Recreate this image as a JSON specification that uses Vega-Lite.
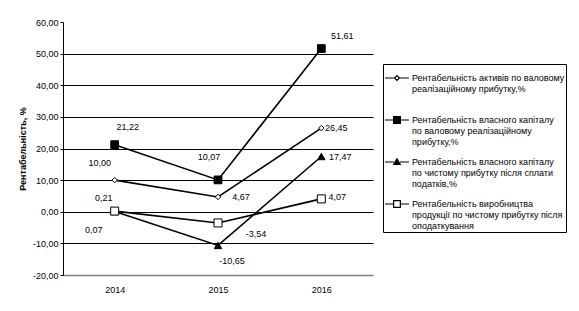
{
  "$schema": "https://vega.github.io/schema/vega-lite/v6.json",
  "width": 310,
  "height": 253,
  "autosize": {"type": "none"},
  "padding": {"left": 63, "top": 22, "right": 206, "bottom": 36},
  "background": "white",
  "config": {
    "locale": {"number": {"decimal": ",", "thousands": " ", "grouping": [3], "currency": ["", ""], "minus": "-"}},
    "font": "Liberation Sans",
    "view": {"stroke": null}
  },
  "data": {
    "values": [
      {"year": "2014", "series": "Рентабельність активів по валовому реалізаційному прибутку,%", "value": 10.00},
      {"year": "2015", "series": "Рентабельність активів по валовому реалізаційному прибутку,%", "value": 4.67},
      {"year": "2016", "series": "Рентабельність активів по валовому реалізаційному прибутку,%", "value": 26.45},
      {"year": "2014", "series": "Рентабельність власного капіталу по валовому реалізаційному прибутку,%", "value": 21.22},
      {"year": "2015", "series": "Рентабельність власного капіталу по валовому реалізаційному прибутку,%", "value": 10.07},
      {"year": "2016", "series": "Рентабельність власного капіталу по валовому реалізаційному прибутку,%", "value": 51.61},
      {"year": "2014", "series": "Рентабельність власного капіталу по чистому прибутку після сплати податків,%", "value": 0.07},
      {"year": "2015", "series": "Рентабельність власного капіталу по чистому прибутку після сплати податків,%", "value": -10.65},
      {"year": "2016", "series": "Рентабельність власного капіталу по чистому прибутку після сплати податків,%", "value": 17.47},
      {"year": "2014", "series": "Рентабельність виробництва продукції по чистому прибутку після оподаткування", "value": 0.21},
      {"year": "2015", "series": "Рентабельність виробництва продукції по чистому прибутку після оподаткування", "value": -3.54},
      {"year": "2016", "series": "Рентабельність виробництва продукції по чистому прибутку після оподаткування", "value": 4.07}
    ]
  },
  "encoding": {
    "x": {
      "field": "year", "type": "ordinal",
      "scale": {"type": "point", "padding": 0.5},
      "axis": {"title": null, "labelAngle": 0, "ticks": false, "domainColor": "#808080", "domainWidth": 1.5, "labelFontSize": 9, "labelColor": "black", "labelPadding": 10, "grid": false}
    },
    "y": {
      "field": "value", "type": "quantitative",
      "scale": {"domain": [-20, 60], "nice": false, "zero": false},
      "axis": {
        "title": "Рентабельність, %", "titleFontSize": 9, "titleFontWeight": "bold", "titleColor": "black", "titlePadding": 5,
        "values": [-20, -10, 0, 10, 20, 30, 40, 50, 60], "format": ".2f",
        "labelFontSize": 9, "labelColor": "black", "labelPadding": 2,
        "tickSize": 3, "tickColor": "black", "domainColor": "black",
        "grid": true, "gridColor": "black", "gridWidth": 1,
        "gridOpacity": {"condition": {"test": "datum.value >= 60 || datum.value <= -20", "value": 0}, "value": 1}
      }
    }
  },
  "layer": [
    {
      "mark": {"type": "line", "color": "black", "strokeWidth": 1.6},
      "encoding": {"detail": {"field": "series"}}
    },
    {
      "mark": {"type": "point", "filled": true, "size": 0, "strokeWidth": 1.2, "opacity": 1},
      "encoding": {
        "shape": {
          "field": "series", "type": "nominal",
          "scale": {
            "domain": [
              "Рентабельність активів по валовому реалізаційному прибутку,%",
              "Рентабельність власного капіталу по валовому реалізаційному прибутку,%",
              "Рентабельність власного капіталу по чистому прибутку після сплати податків,%",
              "Рентабельність виробництва продукції по чистому прибутку після оподаткування"
            ],
            "range": [
              "M-1,0H-0.2M0.2,0H1M0,-0.2L0.2,0L0,0.2L-0.2,0Z",
              "M-1,0H-0.28M0.28,0H1M-0.28,-0.28H0.28V0.28H-0.28Z",
              "M-1,0H-0.25M0.25,0H1M0,-0.27L0.27,0.2H-0.27Z",
              "M-1,0H-0.28M0.28,0H1M-0.28,-0.28H0.28V0.28H-0.28Z"
            ]
          },
          "legend": {
            "title": null, "orient": "none", "legendX": 320, "legendY": 42,
            "strokeColor": "black", "padding": 1, "fillColor": "white",
            "labelFontSize": 9, "labelColor": "black", "labelLimit": 300, "labelOffset": 2,
            "symbolSize": 576, "symbolStrokeWidth": 1.2,
            "rowPadding": 2, "gridAlign": "all",
            "labelExpr": "indexof(datum.label, 'активів') >= 0 ? ['Рентабельність активів по валовому', 'реалізаційному прибутку,%'] : indexof(datum.label, 'власного капіталу по валовому') >= 0 ? ['Рентабельність власного капіталу', 'по валовому реалізаційному', 'прибутку,%'] : indexof(datum.label, 'сплати') >= 0 ? ['Рентабельність власного капіталу', 'по чистому прибутку після сплати', 'податків,%'] : ['Рентабельність виробництва', 'продукції по чистому прибутку після', 'оподаткування']"
          }
        },
        "fill": {
          "field": "series", "type": "nominal",
          "scale": {
            "domain": [
              "Рентабельність активів по валовому реалізаційному прибутку,%",
              "Рентабельність власного капіталу по валовому реалізаційному прибутку,%",
              "Рентабельність власного капіталу по чистому прибутку після сплати податків,%",
              "Рентабельність виробництва продукції по чистому прибутку після оподаткування"
            ],
            "range": ["white", "black", "black", "white"]
          }
        },
        "stroke": {
          "field": "series", "type": "nominal",
          "scale": {
            "domain": [
              "Рентабельність активів по валовому реалізаційному прибутку,%",
              "Рентабельність власного капіталу по валовому реалізаційному прибутку,%",
              "Рентабельність власного капіталу по чистому прибутку після сплати податків,%",
              "Рентабельність виробництва продукції по чистому прибутку після оподаткування"
            ],
            "range": ["black", "black", "black", "black"]
          }
        }
      }
    },
    {
      "transform": [{"filter": "indexof(datum.series, 'активів') >= 0"}],
      "mark": {"type": "point", "shape": "diamond", "filled": true, "fill": "white", "stroke": "black", "strokeWidth": 1, "size": 30, "opacity": 1}
    },
    {
      "transform": [{"filter": "indexof(datum.series, 'власного капіталу по валовому') >= 0"}],
      "mark": {"type": "point", "shape": "square", "filled": true, "fill": "black", "stroke": "black", "strokeWidth": 1, "size": 60, "opacity": 1}
    },
    {
      "transform": [{"filter": "indexof(datum.series, 'сплати') >= 0"}],
      "mark": {"type": "point", "shape": "triangle-up", "filled": true, "fill": "black", "stroke": "black", "strokeWidth": 1, "size": 55, "opacity": 1}
    },
    {
      "transform": [{"filter": "indexof(datum.series, 'виробництва') >= 0"}],
      "mark": {"type": "point", "shape": "square", "filled": true, "fill": "white", "stroke": "black", "strokeWidth": 1, "size": 64, "opacity": 1}
    },
    {
      "encoding": {"text": {"field": "value", "type": "quantitative", "format": ".2f"}},
      "layer": [
        {"transform": [{"filter": "datum.year == '2014' && indexof(datum.series, 'активів') >= 0"}], "mark": {"type": "text", "fontSize": 9, "color": "black", "dx": -15, "dy": -17}},
        {"transform": [{"filter": "datum.year == '2015' && indexof(datum.series, 'активів') >= 0"}], "mark": {"type": "text", "fontSize": 9, "color": "black", "dx": 23, "dy": 0}},
        {"transform": [{"filter": "datum.year == '2016' && indexof(datum.series, 'активів') >= 0"}], "mark": {"type": "text", "fontSize": 9, "color": "black", "dx": 15, "dy": 0}},
        {"transform": [{"filter": "datum.year == '2014' && indexof(datum.series, 'власного капіталу по валовому') >= 0"}], "mark": {"type": "text", "fontSize": 9, "color": "black", "dx": 13, "dy": -18}},
        {"transform": [{"filter": "datum.year == '2015' && indexof(datum.series, 'власного капіталу по валовому') >= 0"}], "mark": {"type": "text", "fontSize": 9, "color": "black", "dx": -9, "dy": -23}},
        {"transform": [{"filter": "datum.year == '2016' && indexof(datum.series, 'власного капіталу по валовому') >= 0"}], "mark": {"type": "text", "fontSize": 9, "color": "black", "dx": 21, "dy": -13}},
        {"transform": [{"filter": "datum.year == '2014' && indexof(datum.series, 'сплати') >= 0"}], "mark": {"type": "text", "fontSize": 9, "color": "black", "dx": -21, "dy": 18}},
        {"transform": [{"filter": "datum.year == '2015' && indexof(datum.series, 'сплати') >= 0"}], "mark": {"type": "text", "fontSize": 9, "color": "black", "dx": 14, "dy": 16}},
        {"transform": [{"filter": "datum.year == '2016' && indexof(datum.series, 'сплати') >= 0"}], "mark": {"type": "text", "fontSize": 9, "color": "black", "dx": 19, "dy": 0}},
        {"transform": [{"filter": "datum.year == '2014' && indexof(datum.series, 'виробництва') >= 0"}], "mark": {"type": "text", "fontSize": 9, "color": "black", "dx": -11, "dy": -13}},
        {"transform": [{"filter": "datum.year == '2015' && indexof(datum.series, 'виробництва') >= 0"}], "mark": {"type": "text", "fontSize": 9, "color": "black", "dx": 38, "dy": 11}},
        {"transform": [{"filter": "datum.year == '2016' && indexof(datum.series, 'виробництва') >= 0"}], "mark": {"type": "text", "fontSize": 9, "color": "black", "dx": 16, "dy": -2}}
      ]
    }
  ]
}
